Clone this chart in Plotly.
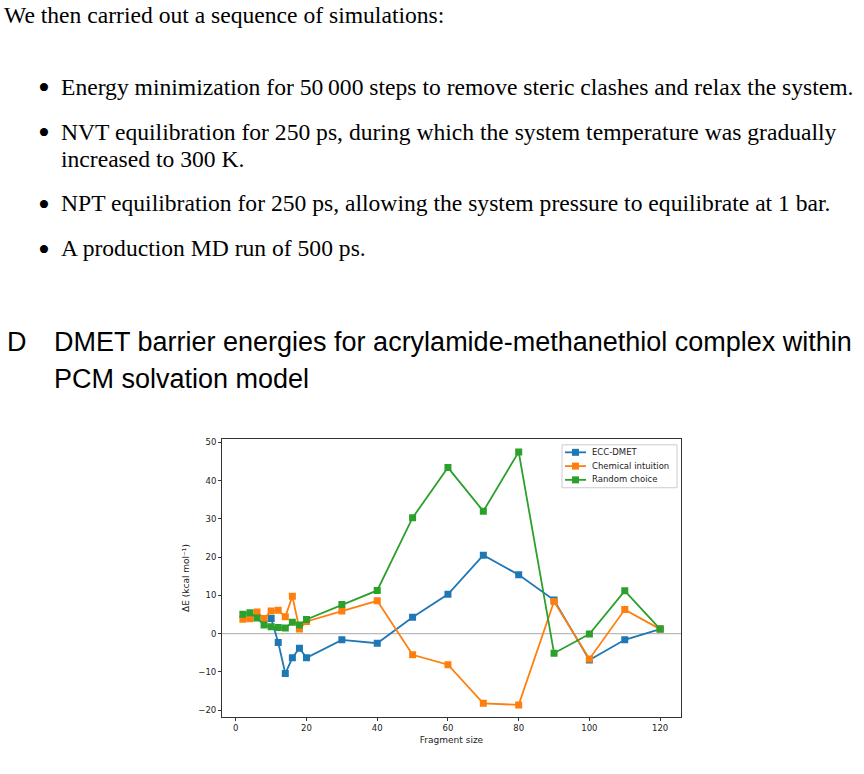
import plotly.graph_objects as go

W, H = 864, 774

# ---- data ----
x_ecc = [10, 12, 14, 16, 18, 20, 30, 40, 50, 60, 70, 80, 90, 100, 110, 120]
y_ecc = [4.0, -2.3, -10.4, -6.3, -3.8, -6.3, -1.6, -2.5, 4.3, 10.3, 20.5, 15.4, 8.8, -6.9, -1.6, 1.2]

x_chem = [2, 4, 6, 8, 10, 12, 14, 16, 18, 20, 30, 40, 50, 60, 70, 80, 90, 100, 110, 120]
y_chem = [3.8, 3.9, 5.7, 4.0, 5.9, 6.1, 4.4, 9.8, 1.2, 3.2, 5.9, 8.6, -5.5, -8.1, -18.2, -18.6, 8.4, -6.6, 6.3, 1.2]

x_rand = [2, 4, 6, 8, 10, 12, 14, 16, 18, 20, 30, 40, 50, 60, 70, 80, 90, 100, 110, 120]
y_rand = [5.1, 5.5, 4.1, 2.3, 1.8, 1.6, 1.5, 3.0, 2.3, 3.7, 7.6, 11.3, 30.3, 43.4, 32.0, 47.5, -5.1, -0.1, 11.2, 1.2]

series_names = ["ECC-DMET", "Chemical intuition", "Random choice"]
colors = ["#1f77b4", "#ff7f0e", "#2ca02c"]
x_ticks = [0, 20, 40, 60, 80, 100, 120]
y_ticks = [-20, -10, 0, 10, 20, 30, 40, 50]

intro = "We then carried out a sequence of simulations:"
bullets = [
    ("Energy minimization for 50\u2009000 steps to remove steric clashes and relax the system.", 87),
    ("NVT equilibration for 250 ps, during which the system temperature was gradually", 132),
    ("NPT equilibration for 250 ps, allowing the system pressure to equilibrate at 1 bar.", 204),
    ("A production MD run of 500 ps.", 249),
]
continuation = ("increased to 300 K.", 159)
heading1 = "DMET barrier energies for acrylamide-methanethiol complex within"
heading2 = "PCM solvation model"

# ---- figure ----
fig = go.Figure()
for xs, ys, name, c in zip([x_ecc, x_chem, x_rand], [y_ecc, y_chem, y_rand], series_names, colors):
    fig.add_trace(go.Scatter(
        x=xs, y=ys, name=name, mode="lines+markers",
        line=dict(color=c, width=1.8),
        marker=dict(symbol="square", size=7, color=c),
        showlegend=False,
    ))

def py(p):
    return 1 - p / H

def px(p):
    return p / W

ax_l, ax_r, ax_t, ax_b = 222, 681, 438, 717
tick_font = dict(family="DejaVu Sans", size=8.5, color="#222")
title_font = dict(family="DejaVu Sans", size=9, color="#222")

fig.update_layout(
    width=W, height=H,
    margin=dict(l=0, r=0, t=0, b=0),
    paper_bgcolor="white", plot_bgcolor="white",
    showlegend=False,
    xaxis=dict(
        domain=[px(ax_l), px(ax_r)], range=[-3.9, 125.9],
        tickvals=x_ticks, ticks="outside", ticklen=3, tickwidth=0.8, tickcolor="#333",
        showline=True, linecolor="#333", linewidth=1, mirror=True,
        showgrid=False, zeroline=False,
        tickfont=tick_font,
        title=dict(text="Fragment size", font=title_font, standoff=4),
    ),
    yaxis=dict(
        domain=[py(ax_b), py(ax_t)], range=[-21.8, 50.9],
        tickvals=y_ticks, ticks="outside", ticklen=3, tickwidth=0.8, tickcolor="#333",
        showline=True, linecolor="#333", linewidth=1, mirror=True,
        showgrid=False, zeroline=False,
        tickfont=tick_font,
        title=dict(text="ΔE (kcal mol⁻¹)", font=title_font, standoff=7),
    ),
)

# y = 0 reference line
fig.add_shape(type="line", xref="x domain", yref="y", x0=0, x1=1, y0=0, y1=0,
              line=dict(color="#aaaaaa", width=1), layer="below")

# ---- legend (drawn as layout decoration) ----
leg_l, leg_r, leg_t, leg_b = 562, 677, 444, 487
fig.add_shape(type="rect", xref="paper", yref="paper",
              x0=px(leg_l), x1=px(leg_r), y0=py(leg_b), y1=py(leg_t),
              line=dict(color="#cccccc", width=1), fillcolor="rgba(255,255,255,0.85)")
for i, (name, c) in enumerate(zip(series_names, colors)):
    yy = 451.5 + 13.8 * i
    fig.add_shape(type="line", xref="paper", yref="paper",
                  x0=px(565), x1=px(586), y0=py(yy), y1=py(yy),
                  line=dict(color=c, width=1.8))
    fig.add_shape(type="rect", xref="paper", yref="paper",
                  x0=px(572), x1=px(579), y0=py(yy + 3.5), y1=py(yy - 3.5),
                  line=dict(width=0), fillcolor=c)
    fig.add_annotation(text=name, xref="paper", yref="paper", x=px(590), y=py(yy - 0.5),
                       xanchor="left", yanchor="middle", showarrow=False,
                       font=dict(family="DejaVu Sans", size=8.5, color="#222"))

serif = dict(family="Liberation Serif", size=23.6, color="black")
sans = dict(family="Liberation Sans", size=27, color="black")

def txt(s, x, y, font):
    fig.add_annotation(text=s, xref="paper", yref="paper", x=px(x), y=py(y - 2),
                       xanchor="left", yanchor="middle", showarrow=False, font=font)

txt(intro, 2, 15, serif)
for s, y in bullets:
    txt("•", 36, y + 1, dict(family="Liberation Serif", size=34, color="black"))
    txt(s, 59, y, serif)
txt(continuation[0], 59, continuation[1], serif)

txt("D", 5, 343, sans)
txt(heading1, 52, 343, sans)
txt(heading2, 52, 380, sans)

fig.write_html("out.html")
